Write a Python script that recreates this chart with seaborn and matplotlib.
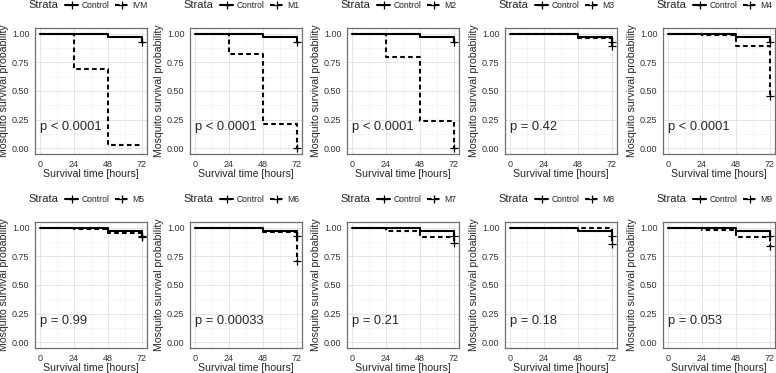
import numpy as np
import pandas as pd
import matplotlib
matplotlib.use("Agg")
import matplotlib.pyplot as plt
from matplotlib.lines import Line2D
from matplotlib.ticker import MultipleLocator
import seaborn as sns

# dados
times = [0, 24, 48, 72]
control = [1.0, 1.0, 0.975, 0.93]
groups = ["IVM", "M1", "M2", "M3", "M4", "M5", "M6", "M7", "M8", "M9"]
surv = {
    "IVM": [1.0, 0.69, 0.03, 0.03],
    "M1": [1.0, 0.82, 0.21, 0.0],
    "M2": [1.0, 0.80, 0.24, 0.0],
    "M3": [1.0, 1.0, 0.96, 0.89],
    "M4": [1.0, 0.99, 0.89, 0.46],
    "M5": [1.0, 0.99, 0.95, 0.92],
    "M6": [1.0, 1.0, 0.96, 0.71],
    "M7": [1.0, 0.97, 0.92, 0.87],
    "M8": [1.0, 1.0, 1.0, 0.86],
    "M9": [1.0, 0.98, 0.92, 0.84],
}
pvals = ["p < 0.0001", "p < 0.0001", "p < 0.0001", "p = 0.42", "p < 0.0001",
         "p = 0.99", "p = 0.00033", "p = 0.21", "p = 0.18", "p = 0.053"]

sns.set_style("white")
plt.rcParams["font.family"] = ["Liberation Sans", "DejaVu Sans"]

W, H = 776, 373
fig = plt.figure(figsize=(W / 100, H / 100), dpi=100)

lefts = [35, 190, 347, 505, 663]
tops = [28, 222]
aw, ah = 112, 126
border = "#6e6e6e"
dash = (2.2, 1.6)

for i, g in enumerate(groups):
    r, c = divmod(i, 5)
    ax = fig.add_axes([lefts[c] / W, 1 - (tops[r] + ah) / H, aw / W, ah / H])

    dados = pd.DataFrame({
        "time": times * 2,
        "surv": control + surv[g],
        "strata": ["Control"] * 4 + [g] * 4,
    })
    sns.lineplot(
        data=dados, x="time", y="surv", style="strata",
        dashes={"Control": "", g: dash},
        color="black", linewidth=1.5, drawstyle="steps-post",
        estimator=None, legend=False, ax=ax
    )
    # marcas de censura em 72h
    if g != "IVM":
        ax.scatter([72], [surv[g][-1]], marker="+", s=28, color="black", linewidths=0.9, zorder=5)
    ax.scatter([72], [control[-1]], marker="+", s=28, color="black", linewidths=0.9, zorder=5)

    ax.set_xlim(-3.6, 75.6)
    ax.set_ylim(-0.05, 1.05)
    ax.set_xticks(times)
    ax.set_yticks([0, 0.25, 0.5, 0.75, 1.0])
    ax.set_yticklabels(["0.00", "0.25", "0.50", "0.75", "1.00"])
    ax.xaxis.set_minor_locator(MultipleLocator(12))
    ax.yaxis.set_minor_locator(MultipleLocator(0.125))
    ax.grid(which="major", color="#e4e4e4", linewidth=0.7)
    ax.grid(which="minor", color="#f1f1f1", linewidth=0.5)
    ax.set_axisbelow(True)
    for s in ax.spines.values():
        s.set_color(border)
        s.set_linewidth(0.9)
    ax.tick_params(which="major", direction="out", length=2.5, width=0.7,
                   color=border, labelsize=6.5, pad=1.5, labelcolor="#333333")
    ax.tick_params(which="minor", length=0)
    ax.set_xlabel("Survival time [hours]", fontsize=7.6, labelpad=0.5)
    ax.set_ylabel("Mosquito survival probability", fontsize=7.6, labelpad=2)

    ax.text(0, 0.19, pvals[i], fontsize=9.3, va="center", ha="left")

    # legenda estilo ggplot
    ax.text(-0.06, 1.18, "Strata", transform=ax.transAxes, fontsize=8,
            va="center", ha="left")
    handles = [
        Line2D([], [], color="black", lw=1.5, marker="+", markersize=6, markeredgewidth=0.9, label="Control"),
        Line2D([], [], color="black", lw=1.5, ls=(0, dash), marker="+", markersize=6,
               markeredgewidth=0.9, label=g),
    ]
    ax.legend(handles=handles, loc="center left", bbox_to_anchor=(0.27, 1.18),
              ncol=2, frameon=False, fontsize=6.2, handlelength=1.5,
              handletextpad=0.45, columnspacing=0.6, borderaxespad=0, borderpad=0)

fig.savefig("out.png", dpi=100)
